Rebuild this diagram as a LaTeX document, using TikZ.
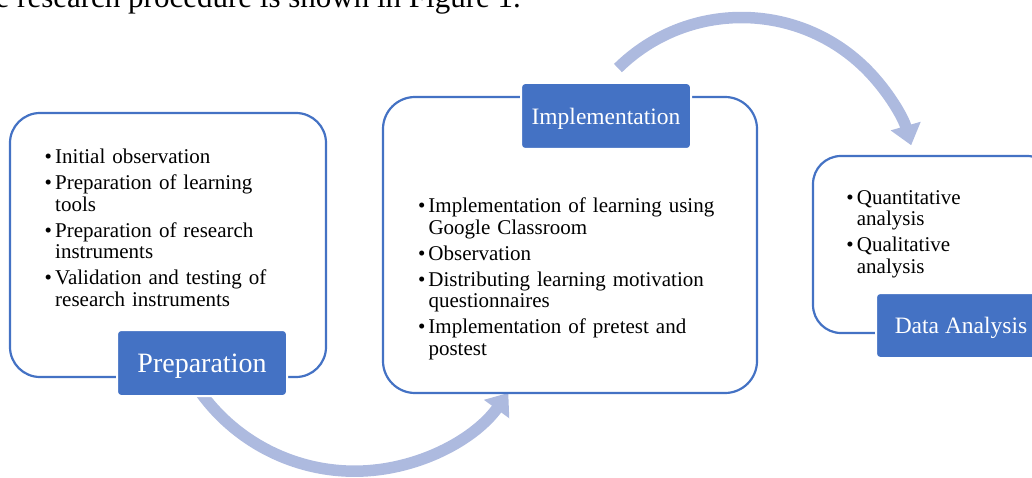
\documentclass[tikz,border=0pt]{standalone}
\usepackage{fontspec}
\setmainfont{Liberation Serif}
\usetikzlibrary{arrows.meta,calc}

\definecolor{boxblue}{HTML}{4472C4}
\definecolor{flowblue}{HTML}{ADBADF}

% one bullet entry with a hanging indent; \newline keeps the indent
\newcommand\bitem[1]{\par\hangindent=10.5pt\hangafter=1\noindent
  \makebox[10.5pt][l]{\textbullet}#1\par}

\tikzset{
  stagebox/.style={draw=boxblue, fill=white, line width=2.2pt, inner sep=0pt},
  stagelabel/.style={fill=boxblue, draw=white, line width=2pt, rounded corners=4pt,
    text=white, minimum width=170pt, minimum height=66pt, inner sep=0pt,
    text depth=0pt},
  bullets/.style={anchor=north west, inner sep=0pt, text width=330pt, align=left,
    font=\fontsize{21}{21.5}\selectfont\setlength{\parskip}{4.5pt}},
  flow/.style={draw=flowblue, line width=11.5pt,
    -{Triangle[width=30pt,length=20pt]}}
}

\begin{document}
\begin{tikzpicture}[x=1pt,y=1pt]
\useasboundingbox (0,0) rectangle (1032,477);

% running text above the figure
\node[anchor=base east, inner sep=0pt, font=\fontsize{31}{36}\selectfont] (caption)
  at (521,469) {The research procedure is shown in Figure 1.};

% arc centres of the two flow arrows
\coordinate (arcA) at (354.6,195.8);
\coordinate (arcB) at (741.6,283.1);

% flow arrows (drawn first, the stages cover their ends)
\draw[flow] ($(arcA)+(214:190pt)$) arc[start angle=214, end angle=324, radius=190pt];
\draw[flow] ($(arcB)+(134.5:176.4pt)$) arc[start angle=134.5, end angle=16, radius=176.4pt];

% stage frames
\node[stagebox, rounded corners=30pt, minimum width=316pt, minimum height=264pt]
  (prepBox) at (168,232) {};
\node[stagebox, rounded corners=32pt, minimum width=374pt, minimum height=296pt]
  (implBox) at (570,232) {};
\node[stagebox, rounded corners=28pt, minimum width=242pt, minimum height=177pt]
  (dataBox) at (934,232.5) {};

% stage contents
\node[bullets] (prepText) at (44.5,339.5) {%
  \bitem{\rule{0pt}{15pt}Initial observation}%
  \bitem{Preparation of learning\newline tools}%
  \bitem{Preparation of research\newline instruments}%
  \bitem{Validation and testing of\newline research instruments}};

\node[bullets] (implText) at (417.8,290.3) {%
  \bitem{\rule{0pt}{15pt}Implementation of learning using\newline Google Classroom}%
  \bitem{Observation}%
  \bitem{Distributing learning motivation\newline questionnaires}%
  \bitem{Implementation of pretest and\newline postest}};

\node[bullets] (dataText) at (846.2,298.7) {%
  \bitem{\rule{0pt}{15pt}Quantitative\newline analysis}%
  \bitem{Qualitative\newline analysis}};

% stage titles
\node[stagelabel, font=\fontsize{28}{32}\selectfont] (prepLbl) at (202,114) {Preparation};
\node[stagelabel, font=\fontsize{23.5}{28}\selectfont] (implLbl) at (606,361) {Implementation};
\node[stagelabel, minimum height=65pt, font=\fontsize{23.5}{28}\selectfont] (dataLbl)
  at (961,151.5) {Data Analysis};
\end{tikzpicture}
\end{document}
